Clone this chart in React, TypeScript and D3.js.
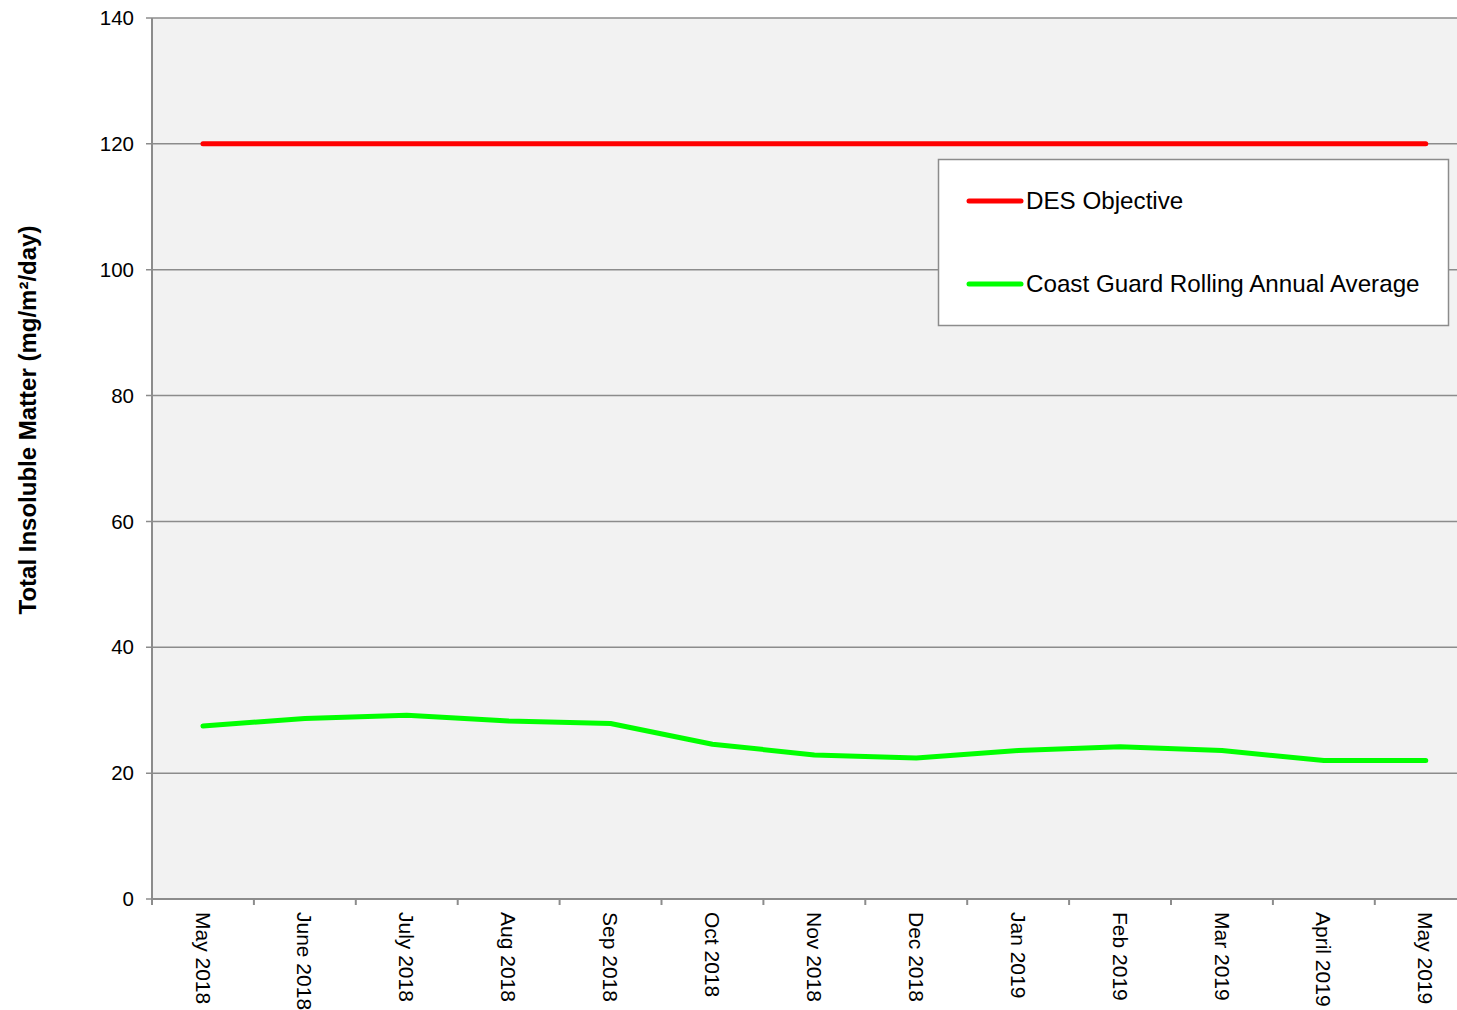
import React from "react";
import * as d3 from "d3";

const months = ["May 2018","June 2018","July 2018","Aug 2018","Sep 2018","Oct 2018","Nov 2018","Dec 2018","Jan 2019","Feb 2019","Mar 2019","April 2019","May 2019"];
const desObjective = [120,120,120,120,120,120,120,120,120,120,120,120,120];
const coastGuard = [27.5,28.7,29.2,28.3,27.9,24.6,22.9,22.4,23.6,24.2,23.6,22.0,22.0];
const yTicks = [0,20,40,60,80,100,120,140];
const seriesNames = ["DES Objective","Coast Guard Rolling Annual Average"];
const seriesColors = ["#ff0000","#00ff00"];

export default function App() {
  const W = 1457, H = 1010;
  const left = 152, top = 18, bottom = 899;
  const band = 101.9;
  const x = d3.scaleBand<string>().domain(months).range([left, left + band * months.length]).padding(0);
  const y = d3.scaleLinear().domain([0, 140]).range([bottom, top]);
  const cx = (m: string) => (x(m) as number) + x.bandwidth() / 2;
  const line = d3.line<number>().x((_, i) => cx(months[i])).y(d => y(d));
  const font = "'Liberation Sans', Arial, sans-serif";
  const boundaries = d3.range(months.length + 1).map(i => left + i * x.bandwidth());
  return (
    <svg width={W} height={H} style={{ position: "fixed", left: 0, top: 0, background: "#fff" }} fontFamily={font}>
      <rect x={left} y={top} width={W - left} height={bottom - top} fill="#f2f2f2" />
      {yTicks.map(t => (
        <g key={t}>
          <line x1={left - 6} x2={W} y1={y(t)} y2={y(t)} stroke="#8c8c8c" strokeWidth={1.5} />
          <text x={134} y={y(t)} dy="0.35em" textAnchor="end" fontSize={20.5} fill="#000">{t}</text>
        </g>
      ))}
      <line x1={left} x2={left} y1={top} y2={bottom + 6} stroke="#8c8c8c" strokeWidth={2} />
      <line x1={left} x2={W} y1={bottom} y2={bottom} stroke="#8c8c8c" strokeWidth={2} />
      {boundaries.map((b, i) => (
        <line key={i} x1={b} x2={b} y1={bottom} y2={bottom + 6} stroke="#8c8c8c" strokeWidth={2} />
      ))}
      {months.map(m => (
        <text key={m} transform={`translate(${cx(m)},${912}) rotate(90)`} dy="0.35em" textAnchor="start" fontSize={21} fill="#000">{m}</text>
      ))}
      <path d={line(desObjective) || ""} fill="none" stroke={seriesColors[0]} strokeWidth={5} strokeLinecap="round" strokeLinejoin="round" />
      <path d={line(coastGuard) || ""} fill="none" stroke={seriesColors[1]} strokeWidth={5} strokeLinecap="round" strokeLinejoin="round" />
      <text transform={`translate(28,420) rotate(-90)`} dy="0.35em" textAnchor="middle" fontSize={24} fontWeight="bold" fill="#000">Total Insoluble Matter (mg/m²/day)</text>
      <g>
        <rect x={938.5} y={159.5} width={510} height={166} fill="#fff" stroke="#8c8c8c" strokeWidth={1.5} />
        {seriesNames.map((n, i) => {
          const ly = 201 + i * 83;
          return (
            <g key={n}>
              <line x1={969} x2={1021} y1={ly} y2={ly} stroke={seriesColors[i]} strokeWidth={5} strokeLinecap="round" />
              <text x={1026} y={ly} dy="0.35em" fontSize={24.2} fill="#000">{n}</text>
            </g>
          );
        })}
      </g>
    </svg>
  );
}
